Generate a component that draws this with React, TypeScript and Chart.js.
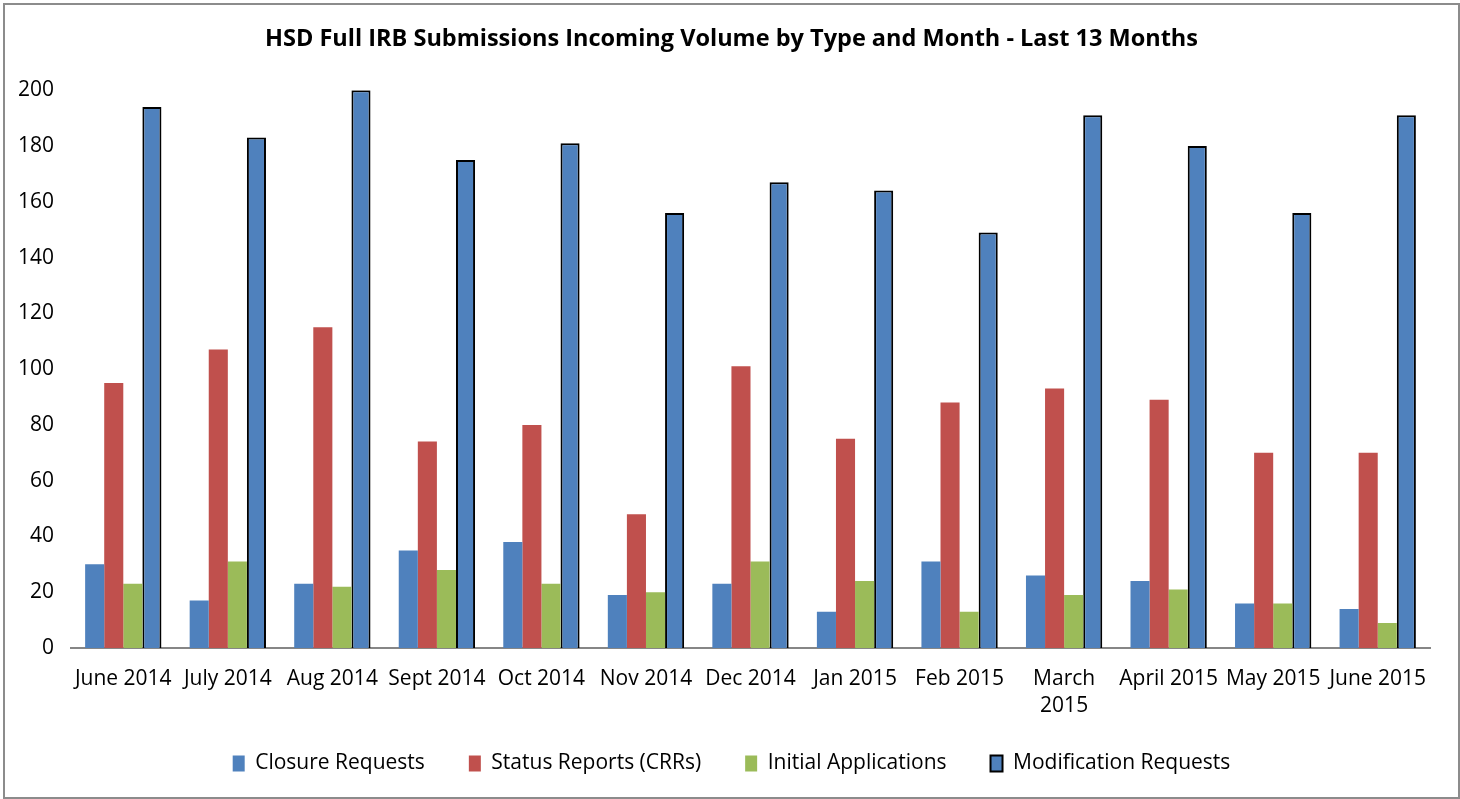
import React, { useEffect, useRef } from "react";
import { Chart, registerables } from "chart.js";

Chart.register(...registerables);

const categories: (string | string[])[] = [
  "June 2014", "July 2014", "Aug 2014", "Sept 2014", "Oct 2014", "Nov 2014",
  "Dec 2014", "Jan 2015", "Feb 2015", ["March", "2015"], "April 2015", "May 2015", "June 2015",
];
const closureRequests = [30, 17, 23, 35, 38, 19, 23, 13, 31, 26, 24, 16, 14];
const statusReports = [95, 107, 115, 74, 80, 48, 101, 75, 88, 93, 89, 70, 70];
const initialApplications = [23, 31, 22, 28, 23, 20, 31, 24, 13, 19, 21, 16, 9];
const modificationRequests = [194, 183, 200, 175, 181, 156, 167, 164, 149, 191, 180, 156, 191];

const FONT = "'Open Sans', sans-serif";

// fine positioning of title and legend boxes after layout
const shiftBoxes = {
  id: "shiftBoxes",
  afterLayout(chart: any) {
    const t = chart.titleBlock;
    if (t) { t.left += 12; t.right += 12; }
    const l = chart.legend;
    if (l) { l.left += 12; l.right += 12; l.top -= 12; l.bottom -= 12; }
  },
};

export default function App() {
  const ref = useRef<HTMLCanvasElement | null>(null);
  useEffect(() => {
    if (!ref.current) return;
    const chart = new Chart(ref.current, {
      type: "bar",
      data: {
        labels: categories,
        datasets: [
          { label: "Closure Requests", data: closureRequests, backgroundColor: "#4F81BD", borderWidth: 0 },
          { label: "Status Reports (CRRs)", data: statusReports, backgroundColor: "#C0504D", borderWidth: 0 },
          { label: "Initial Applications", data: initialApplications, backgroundColor: "#9BBB59", borderWidth: 0 },
          { label: "Modification Requests", data: modificationRequests, backgroundColor: "#4F81BD", borderColor: "#000000", borderWidth: 2 },
        ],
      },
      plugins: [shiftBoxes],
      options: {
        animation: false,
        responsive: false,
        maintainAspectRatio: false,
        layout: { autoPadding: false, padding: { left: 4, right: 28, top: 20, bottom: 1 } },
        datasets: { bar: { categoryPercentage: 0.73, barPercentage: 1.0 } },
        plugins: {
          title: {
            display: true,
            text: "HSD Full IRB Submissions Incoming Volume by Type and Month - Last 13 Months",
            color: "#000",
            font: { family: FONT, size: 23.5, weight: "bold" },
            padding: { top: 0, bottom: 37 },
          },
          legend: {
            position: "bottom",
            labels: {
              color: "#000",
              font: { family: FONT, size: 21 },
              boxWidth: 12,
              boxHeight: 16,
              padding: 44,
            },
          },
          tooltip: { enabled: false },
        },
        scales: {
          x: {
            grid: { display: false },
            border: { display: true, color: "#868686", width: 2 },
            ticks: { color: "#000", font: { family: FONT, size: 21, lineHeight: 1.3 }, maxRotation: 0, autoSkip: false, padding: 9 },
            afterFit: (scale: any) => { scale.height = 73; },
          },
          y: {
            min: 0,
            max: 200,
            grid: { display: false },
            border: { display: false },
            ticks: { stepSize: 20, color: "#000", font: { family: FONT, size: 21 }, padding: 9 },
          },
        },
      },
    });
    return () => chart.destroy();
  }, []);
  return (
    <div style={{ position: "fixed", left: 3, top: 3, width: 1453, height: 792, border: "2px solid #8c8c8c", background: "#fff" }}>
      <canvas ref={ref} width={1453} height={792} style={{ display: "block" }} />
    </div>
  );
}
